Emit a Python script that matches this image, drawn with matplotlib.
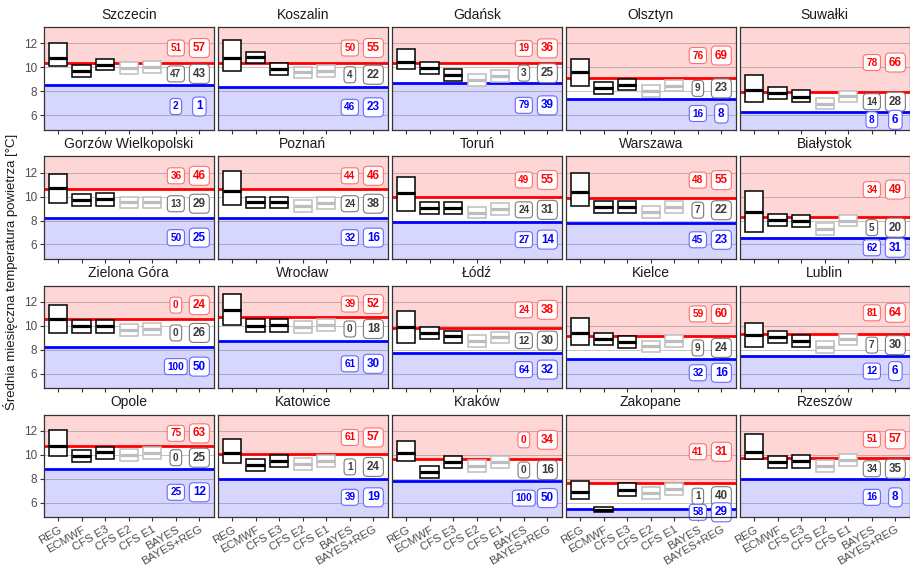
import matplotlib
matplotlib.use("Agg")
import matplotlib.pyplot as plt
from matplotlib.patches import Rectangle

plt.rcParams['font.family'] = ['Liberation Sans', 'DejaVu Sans']

models = ["REG", "ECMWF", "CFS E3", "CFS E2", "CFS E1", "BAYES", "BAYES+REG"]

cities = ["Szczecin", "Koszalin", "Gdańsk", "Olsztyn", "Suwałki",
          "Gorzów Wielkopolski", "Poznań", "Toruń", "Warszawa", "Białystok",
          "Zielona Góra", "Wrocław", "Łódź", "Kielce", "Lublin",
          "Opole", "Katowice", "Kraków", "Zakopane", "Rzeszów"]

# tercile boundaries of the climatological distribution [°C]
upper_tercile = [10.39, 10.39, 10.33, 9.14, 7.97, 10.61, 10.61, 9.92, 9.89, 8.31,
                 10.57, 10.76, 9.79, 9.10, 9.29, 10.72, 10.03, 9.64, 7.64, 9.72]
lower_tercile = [8.53, 8.39, 8.72, 7.36, 6.31, 8.19, 8.19, 7.86, 7.83, 6.50,
                 8.21, 8.68, 7.71, 7.18, 7.46, 8.78, 7.94, 7.81, 5.44, 7.94]

# forecast ranges (low, central, high) [°C]
reg = [(10.10, 10.80, 12.00), (9.72, 10.81, 12.28), (9.83, 10.42, 11.50), (8.44, 9.61, 10.69), (7.14, 8.11, 9.33),
       (9.44, 10.75, 11.89), (9.31, 10.50, 12.17), (8.78, 10.28, 11.67), (9.25, 10.42, 12.00), (7.08, 8.75, 10.50),
       (9.38, 10.57, 11.76), (10.07, 11.32, 12.65), (8.57, 9.88, 11.18), (8.40, 9.38, 10.65), (8.21, 9.18, 10.24),
       (9.92, 10.72, 12.08), (9.28, 10.11, 11.28), (9.44, 10.11, 11.17), (6.33, 6.89, 7.81), (9.61, 10.22, 11.69)]
ecmwf = [(9.17, 9.72, 10.17), (10.33, 10.83, 11.31), (9.47, 9.97, 10.44), (7.78, 8.28, 8.75), (7.36, 7.83, 8.33),
         (9.17, 9.72, 10.22), (9.03, 9.53, 10.00), (8.53, 9.08, 9.56), (8.61, 9.11, 9.61), (7.56, 8.06, 8.58),
         (9.38, 9.93, 10.43), (9.51, 10.01, 10.57), (8.90, 9.40, 9.88), (8.40, 8.90, 9.35), (8.51, 9.04, 9.54),
         (9.42, 9.89, 10.39), (8.64, 9.17, 9.67), (8.08, 8.58, 9.06), (5.20, 5.40, 5.62), (8.89, 9.39, 9.89)]
cfs_e3 = [(9.75, 10.22, 10.72), (9.36, 9.86, 10.39), (8.89, 9.36, 9.89), (8.08, 8.56, 9.03), (7.14, 7.56, 8.11),
          (9.25, 9.78, 10.28), (9.03, 9.53, 10.00), (8.53, 9.08, 9.56), (8.61, 9.11, 9.61), (7.47, 7.92, 8.42),
          (9.38, 9.93, 10.43), (9.51, 10.07, 10.57), (8.57, 9.10, 9.54), (8.15, 8.63, 9.13), (8.21, 8.71, 9.18),
          (9.67, 10.22, 10.67), (8.97, 9.50, 10.00), (8.86, 9.39, 9.86), (6.56, 7.08, 7.61), (8.92, 9.44, 9.94)]
cfs_e2 = [(9.47, 9.92, 10.47), (9.08, 9.58, 10.06), (8.47, 8.94, 9.44), (7.53, 8.06, 8.50), (6.50, 6.97, 7.44),
          (9.03, 9.53, 10.00), (8.75, 9.22, 9.72), (8.17, 8.61, 9.14), (8.19, 8.69, 9.19), (6.81, 7.28, 7.83),
          (9.13, 9.60, 10.10), (9.40, 9.88, 10.38), (8.24, 8.68, 9.18), (7.76, 8.26, 8.71), (7.74, 8.21, 8.68),
          (9.50, 9.97, 10.47), (8.69, 9.22, 9.72), (8.56, 9.08, 9.58), (6.33, 6.83, 7.33), (8.56, 9.06, 9.53)]
cfs_e1 = [(9.56, 10.06, 10.56), (9.22, 9.72, 10.19), (8.81, 9.28, 9.78), (8.03, 8.47, 8.94), (7.11, 7.58, 8.06),
          (9.03, 9.53, 10.00), (8.94, 9.44, 9.94), (8.42, 8.94, 9.44), (8.64, 9.14, 9.61), (7.53, 7.97, 8.47),
          (9.18, 9.68, 10.21), (9.54, 10.07, 10.57), (8.57, 9.04, 9.51), (8.21, 8.71, 9.18), (8.35, 8.85, 9.32),
          (9.64, 10.17, 10.61), (8.94, 9.47, 9.94), (8.89, 9.39, 9.86), (6.67, 7.17, 7.67), (9.06, 9.56, 10.06)]

# tercile probabilities [%]: (above normal, normal, below normal)
bayes = [(51, 47, 2), (50, 4, 46), (19, 3, 79), (76, 9, 16), (78, 14, 8),
         (36, 13, 50), (44, 24, 32), (49, 24, 27), (48, 7, 45), (34, 5, 62),
         (0, 0, 100), (39, 0, 61), (24, 12, 64), (59, 9, 32), (81, 7, 12),
         (75, 0, 25), (61, 1, 39), (0, 0, 100), (41, 1, 58), (51, 34, 16)]
bayes_reg = [(57, 43, 1), (55, 22, 23), (36, 25, 39), (69, 23, 8), (66, 28, 6),
             (46, 29, 25), (46, 38, 16), (55, 31, 14), (55, 22, 23), (49, 20, 31),
             (24, 26, 50), (52, 18, 30), (38, 30, 32), (60, 24, 16), (64, 30, 6),
             (63, 25, 12), (57, 24, 19), (34, 16, 50), (31, 40, 29), (57, 35, 8)]

yticks = [6, 8, 10, 12]

W, H = 910, 566
fig = plt.figure(figsize=(W / 100, H / 100), dpi=100)

col_left = [44, 218, 392, 566, 740]
row_top = [27.3, 156.4, 285.5, 414.6]
pw, ph = 169.5, 102.8
ylo, yhi = 4.77, 13.35
lab_top, lab_bot = 12.85, 4.95

RED, BLUE = '#FF0000', '#0000FF'
box_sets = [(reg, '#000000'), (ecmwf, '#000000'), (cfs_e3, '#000000'),
            (cfs_e2, '#BDBDBD'), (cfs_e1, '#BDBDBD')]
half = 0.39

for i, city in enumerate(cities):
    r, c = divmod(i, 5)
    ax = fig.add_axes([col_left[c] / W, 1 - (row_top[r] + ph) / H, pw / W, ph / H])
    ax.set_xlim(0.4, 7.6)
    ax.set_ylim(ylo, yhi)
    up, lo = upper_tercile[i], lower_tercile[i]

    ax.axhspan(up, yhi, color='#FFD6D6', lw=0, zorder=0)
    ax.axhspan(ylo, lo, color='#D6D6FF', lw=0, zorder=0)
    for g in yticks:
        ax.axhline(g, color='#555555', lw=0.7, alpha=0.35, zorder=1)
    ax.axhline(up, color=RED, lw=2.0, zorder=2)
    ax.axhline(lo, color=BLUE, lw=2.0, zorder=2)

    for j, (data, col) in enumerate(box_sets):
        b_lo, b_mid, b_hi = data[i]
        x = j + 1
        ax.add_patch(Rectangle((x - half, b_lo), 2 * half, b_hi - b_lo,
                               facecolor='white', edgecolor=col, lw=1.1, zorder=3))
        ax.plot([x - half, x + half], [b_mid, b_mid], color=col, lw=2.3,
                solid_capstyle='butt', zorder=4)

    ys = [(up + lab_top) / 2, (up + lo) / 2, (lo + lab_bot) / 2]
    tcols = [RED, '#3A3A3A', BLUE]
    ecols = ['#FF7070', '#7A7A7A', '#6A6AFF']
    for x, probs, fs in ((6, bayes[i], 7.2), (7, bayes_reg[i], 8.4)):
        for v, y, tc, ec in zip(probs, ys, tcols, ecols):
            ax.text(x, y, str(v), ha='center', va='center', fontsize=fs,
                    fontweight='bold', color=tc, zorder=6,
                    bbox=dict(boxstyle='round,pad=0.3,rounding_size=0.35',
                              fc='white', ec=ec, lw=0.8))

    for s in ax.spines.values():
        s.set_color('#333333')
        s.set_linewidth(0.9)
        s.set_zorder(7)

    ax.set_yticks(yticks)
    ax.set_xticks(range(1, 8))
    ax.tick_params(axis='both', length=3, width=0.8, color='#333333',
                   labelsize=8.5, labelcolor='#4D4D4D', pad=2)
    if c == 0:
        ax.set_yticklabels([str(t) for t in yticks])
    else:
        ax.tick_params(axis='y', left=False, labelleft=False)
    if r == 3:
        ax.set_xticklabels(models, rotation=30, ha='right', va='top',
                           rotation_mode='anchor', fontsize=8.2)
    else:
        ax.set_xticklabels([])
    ax.set_title(city, fontsize=10, color='#1A1A1A', pad=6)

fig.text(0.012, 1 - 272 / H, 'Średnia miesięczna temperatura powietrza [°C]',
         rotation=90, ha='center', va='center', fontsize=9.5, color='#1A1A1A')

fig.savefig('out.png', dpi=100)
